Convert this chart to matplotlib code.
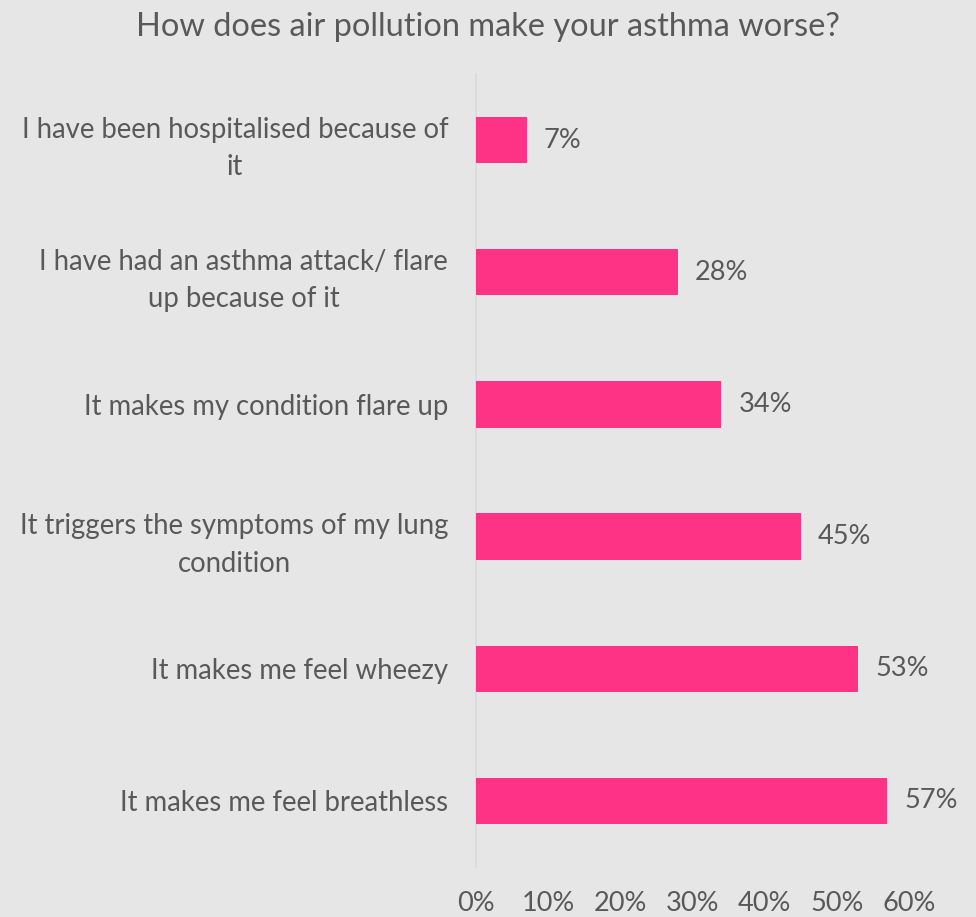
import matplotlib
matplotlib.use("Agg")
import matplotlib.pyplot as plt

categories = [
    "I have been hospitalised because of\nit",
    "I have had an asthma attack/ flare\nup because of it",
    "It makes my condition flare up",
    "It triggers the symptoms of my lung\ncondition",
    "It makes me feel wheezy",
    "It makes me feel breathless",
]
values = [7, 28, 34, 45, 53, 57]
tick_values = [0, 10, 20, 30, 40, 50, 60]
tick_labels = ["0%", "10%", "20%", "30%", "40%", "50%", "60%"]
title = "How does air pollution make your asthma worse?"

BG = "#E7E6E6"
BAR = "#FF3385"
TEXT = "#595959"
FONT = "Lato"

plt.rcParams["font.family"] = [FONT, "DejaVu Sans"]

fig = plt.figure(figsize=(9.76, 9.17), dpi=100, facecolor=BG)
ax = fig.add_axes([476 / 976, 50 / 917, 433 / 976, 793 / 917])
ax.set_facecolor(BG)

y = list(range(len(categories)))
ax.barh(y, values, height=0.35, color=BAR, zorder=3)
ax.set_ylim(len(categories) - 0.5, -0.5)
ax.set_xlim(0, 60)

for yi, v in zip(y, values):
    ax.annotate(f"{v}%", xy=(v, yi), xytext=(17, 0), textcoords="offset pixels",
                ha="left", va="center", fontsize=19.5, color=TEXT)

ax.set_yticks(y)
ax.set_yticklabels(categories, fontsize=19.8, color=TEXT, multialignment="center",
                   linespacing=1.55)
ax.set_xticks(tick_values)
ax.set_xticklabels(tick_labels, fontsize=19.5, color=TEXT)
ax.tick_params(axis="y", length=0, pad=20)
ax.tick_params(axis="x", length=0, pad=17)

for side in ["top", "right", "bottom"]:
    ax.spines[side].set_visible(False)
ax.spines["left"].set_color("#D9D9D9")
ax.spines["left"].set_linewidth(1.2)

fig.text(488 / 976, 1 - 27 / 917, title, ha="center", va="center",
         fontsize=23.4, color=TEXT)

fig.savefig("out.png", dpi=100, facecolor=BG)
